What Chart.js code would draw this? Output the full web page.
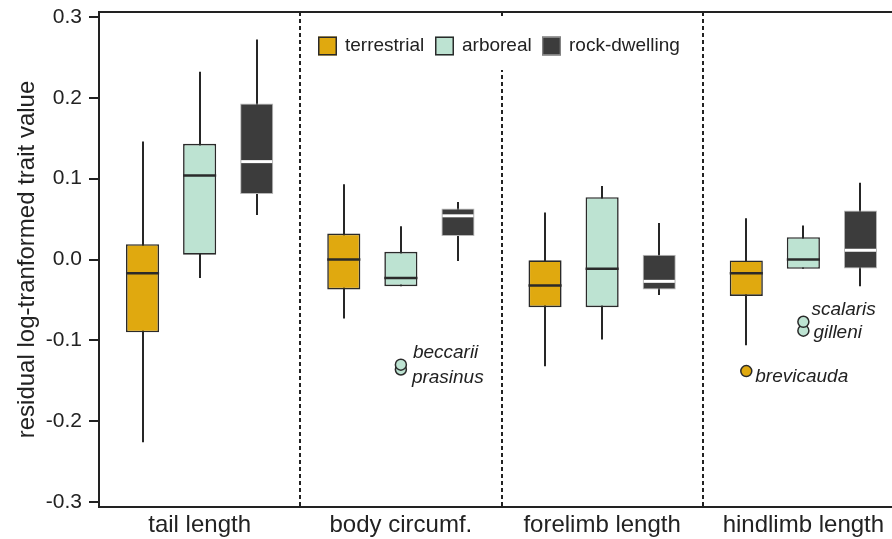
<!DOCTYPE html>
<html><head><meta charset="utf-8">
<script src="https://cdn.jsdelivr.net/npm/chart.js@4/dist/chart.umd.min.js"></script>
<style>
html,body{margin:0;padding:0;background:#fff;overflow:hidden;}
#wrap{position:relative;width:911px;height:539px;}
</style></head><body>
<div id="wrap"><canvas id="c"></canvas></div>
<script>
// ---------- data ----------
const categories = ['tail length', 'body circumf.', 'forelimb length', 'hindlimb length'];
const groups = ['terrestrial', 'arboreal', 'rock-dwelling'];

const terrestrialLow    = [-0.226, -0.073, -0.132, -0.106];
const terrestrialQ1     = [-0.090, -0.037, -0.059, -0.045];
const terrestrialMedian = [-0.017,  0.000, -0.032, -0.017];
const terrestrialQ3     = [ 0.019,  0.032, -0.001,  0.000];
const terrestrialHigh   = [ 0.146,  0.093,  0.058,  0.051];

const arborealLow    = [-0.023, -0.033, -0.099, -0.0115];
const arborealQ1     = [ 0.006, -0.033, -0.059, -0.0115];
const arborealMedian = [ 0.104, -0.023, -0.0115, 0.000];
const arborealQ3     = [ 0.143,  0.0095, 0.077,  0.0275];
const arborealHigh   = [ 0.232,  0.041,  0.091,  0.042];

const rockLow    = [0.055, -0.002, -0.044, -0.033];
const rockQ1     = [0.081,  0.029, -0.037, -0.011];
const rockMedian = [0.121,  0.054, -0.027,  0.0115];
const rockQ3     = [0.193,  0.063,  0.006,  0.0605];
const rockHigh   = [0.272,  0.071,  0.045,  0.095];

// outliers (listed in drawing order)
const outlierCategory = [1, 1, 3, 3, 3];
const outlierGroup    = [1, 1, 1, 1, 0];
const outlierValue    = [-0.136, -0.130, -0.088, -0.077, -0.138];
const outlierName     = ['prasinus', 'beccarii', 'gilleni', 'scalaris', 'brevicauda'];

const yTicks = [-0.3, -0.2, -0.1, 0.0, 0.1, 0.2, 0.3];
const yMin = -0.306, yMax = 0.306;

// ---------- styles ----------
const FONT = "'Liberation Sans', Arial, Helvetica, sans-serif";
const INK = '#222222';
const fills   = ['#E0A90F', '#BDE3D2', '#3C3C3C'];
const borders = ['#2A2A2A', '#2A2A2A', '#B8B8B8'];
const borderW = [1.6, 1.6, 1];
const medianColor = ['#2A2A2A', '#2A2A2A', '#FFFFFF'];
const labelOffsets = [[11, 8], [12, -12], [10, 2], [8, -12], [9, 6]];
const CAT_PCT = 0.851, BAR_PCT = 0.58;

const lows = [terrestrialLow, arborealLow, rockLow];
const q1s = [terrestrialQ1, arborealQ1, rockQ1];
const meds = [terrestrialMedian, arborealMedian, rockMedian];
const q3s = [terrestrialQ3, arborealQ3, rockQ3];
const highs = [terrestrialHigh, arborealHigh, rockHigh];

const datasets = [];
groups.forEach((g, gi) => {
  datasets.push({
    type: 'bar', label: g, order: 1,
    data: categories.map((c, i) => [q1s[gi][i], q3s[gi][i]]),
    backgroundColor: fills[gi], borderColor: borders[gi], borderWidth: borderW[gi],
    borderSkipped: false, categoryPercentage: CAT_PCT, barPercentage: BAR_PCT
  });
});
// outlier scatter datasets, one per group that has outliers (x = fractional category index)
const outlierRef = [];
const scatterIndexByGroup = {};
outlierValue.forEach((v, k) => {
  const g = outlierGroup[k];
  if (scatterIndexByGroup[g] === undefined) {
    scatterIndexByGroup[g] = datasets.length;
    datasets.push({
      type: 'scatter', label: groups[g] + ' outliers', order: 0, parsing: false,
      data: [], pointRadius: 5.5, pointHoverRadius: 5.5,
      pointBackgroundColor: fills[g], pointBorderColor: '#2A2A2A', pointBorderWidth: 1.5
    });
  }
  const ds = datasets[scatterIndexByGroup[g]];
  const offset = (g - 1) * CAT_PCT / groups.length;
  ds.data.push({x: outlierCategory[k] + offset, y: v});
  outlierRef.push([scatterIndexByGroup[g], ds.data.length - 1]);
});

const decorPlugin = {
  id: 'decor',
  beforeDatasetsDraw(chart) {
    const {ctx, chartArea: a} = chart;
    const xs = chart.scales.x, ys = chart.scales.y;
    ctx.save();
    // dotted category dividers
    ctx.strokeStyle = INK; ctx.lineWidth = 2;
    ctx.setLineDash([4, 3]);
    for (let i = 0; i < categories.length; i++) {
      const x = Math.round(xs.getPixelForValue(i + 0.5));
      ctx.beginPath(); ctx.moveTo(x, a.top); ctx.lineTo(x, a.bottom); ctx.stroke();
    }
    ctx.setLineDash([]);
    // whiskers (drawn below the boxes)
    ctx.strokeStyle = '#262626'; ctx.lineWidth = 2;
    groups.forEach((g, gi) => {
      chart.getDatasetMeta(gi).data.forEach((el, i) => {
        const x = Math.round(el.x);
        ctx.beginPath();
        ctx.moveTo(x, ys.getPixelForValue(lows[gi][i]));
        ctx.lineTo(x, ys.getPixelForValue(highs[gi][i]));
        ctx.stroke();
      });
    });
    ctx.restore();
  },
  afterDatasetsDraw(chart) {
    const {ctx, chartArea: a} = chart;
    const y = chart.scales.y;
    ctx.save();
    // medians
    groups.forEach((g, gi) => {
      const meta = chart.getDatasetMeta(gi);
      meta.data.forEach((el, i) => {
        const inset = gi === 2 ? 1 : 0;
        const py = y.getPixelForValue(meds[gi][i]);
        ctx.strokeStyle = medianColor[gi];
        ctx.lineWidth = gi === 2 ? 3 : 2.5;
        ctx.beginPath();
        ctx.moveTo(el.x - el.width / 2 + inset, py);
        ctx.lineTo(el.x + el.width / 2 - inset, py);
        ctx.stroke();
      });
    });
    // outlier labels
    ctx.fillStyle = INK;
    ctx.font = 'italic 19px ' + FONT;
    ctx.textAlign = 'left'; ctx.textBaseline = 'middle';
    outlierRef.forEach(([di, pi], k) => {
      const el = chart.getDatasetMeta(di).data[pi];
      ctx.fillText(outlierName[k], el.x + labelOffsets[k][0], el.y + labelOffsets[k][1]);
    });
    // legend
    ctx.fillStyle = '#FFFFFF';
    ctx.fillRect(306, 18, 388, 52);
    const sq = [318, 435, 542];
    const tx = [345, 462, 569];
    groups.forEach((g, gi) => {
      ctx.fillStyle = fills[gi];
      ctx.fillRect(sq[gi], 36.5, 19, 19);
      ctx.strokeStyle = gi === 2 ? '#9A9A9A' : '#2A2A2A';
      ctx.lineWidth = gi === 2 ? 1 : 1.5;
      ctx.strokeRect(sq[gi] + 0.75, 37.25, 17.5, 17.5);
      ctx.fillStyle = INK;
      ctx.font = '19px ' + FONT;
      ctx.textBaseline = 'middle';
      ctx.fillText(g, tx[gi], 46);
    });
    // top frame
    ctx.strokeStyle = INK; ctx.lineWidth = 2;
    ctx.beginPath(); ctx.moveTo(a.left - 1, a.top); ctx.lineTo(a.right, a.top); ctx.stroke();
    ctx.restore();
  }
};

new Chart(document.getElementById('c'), {
  type: 'bar',
  data: {labels: categories, datasets},
  plugins: [decorPlugin],
  options: {
    responsive: true, maintainAspectRatio: false, animation: false, devicePixelRatio: 1,
    layout: {padding: {top: 12, right: 1, left: 0, bottom: 0}},
    plugins: {legend: {display: false}, tooltip: {enabled: false}},
    scales: {
      x: {
        type: 'category', offset: true,
        grid: {display: false, drawTicks: false},
        border: {display: true, color: INK, width: 2},
        ticks: {color: INK, font: {family: FONT, size: 24}, padding: 4, maxRotation: 0, autoSkip: false},
        afterFit(s) { s.height = 32; s.paddingLeft = 0; s.paddingRight = 0; }
      },
      y: {
        type: 'linear', min: yMin, max: yMax, stacked: false,
        afterBuildTicks(s) { s.ticks = yTicks.map(v => ({value: v})); },
        ticks: {callback: v => Number(v).toFixed(1), color: INK, font: {family: FONT, size: 21}, padding: 7},
        grid: {drawOnChartArea: false, drawTicks: true, tickLength: 10, color: INK, lineWidth: 2},
        border: {display: true, color: INK, width: 2},
        title: {display: true, text: 'residual log-tranformed trait value', color: INK,
                font: {family: FONT, size: 24}, padding: {top: 13, bottom: 0}},
        afterFit(s) { s.width = 99; s.paddingTop = 0; s.paddingBottom = 0; }
      }
    }
  }
});
</script>
</body></html>
